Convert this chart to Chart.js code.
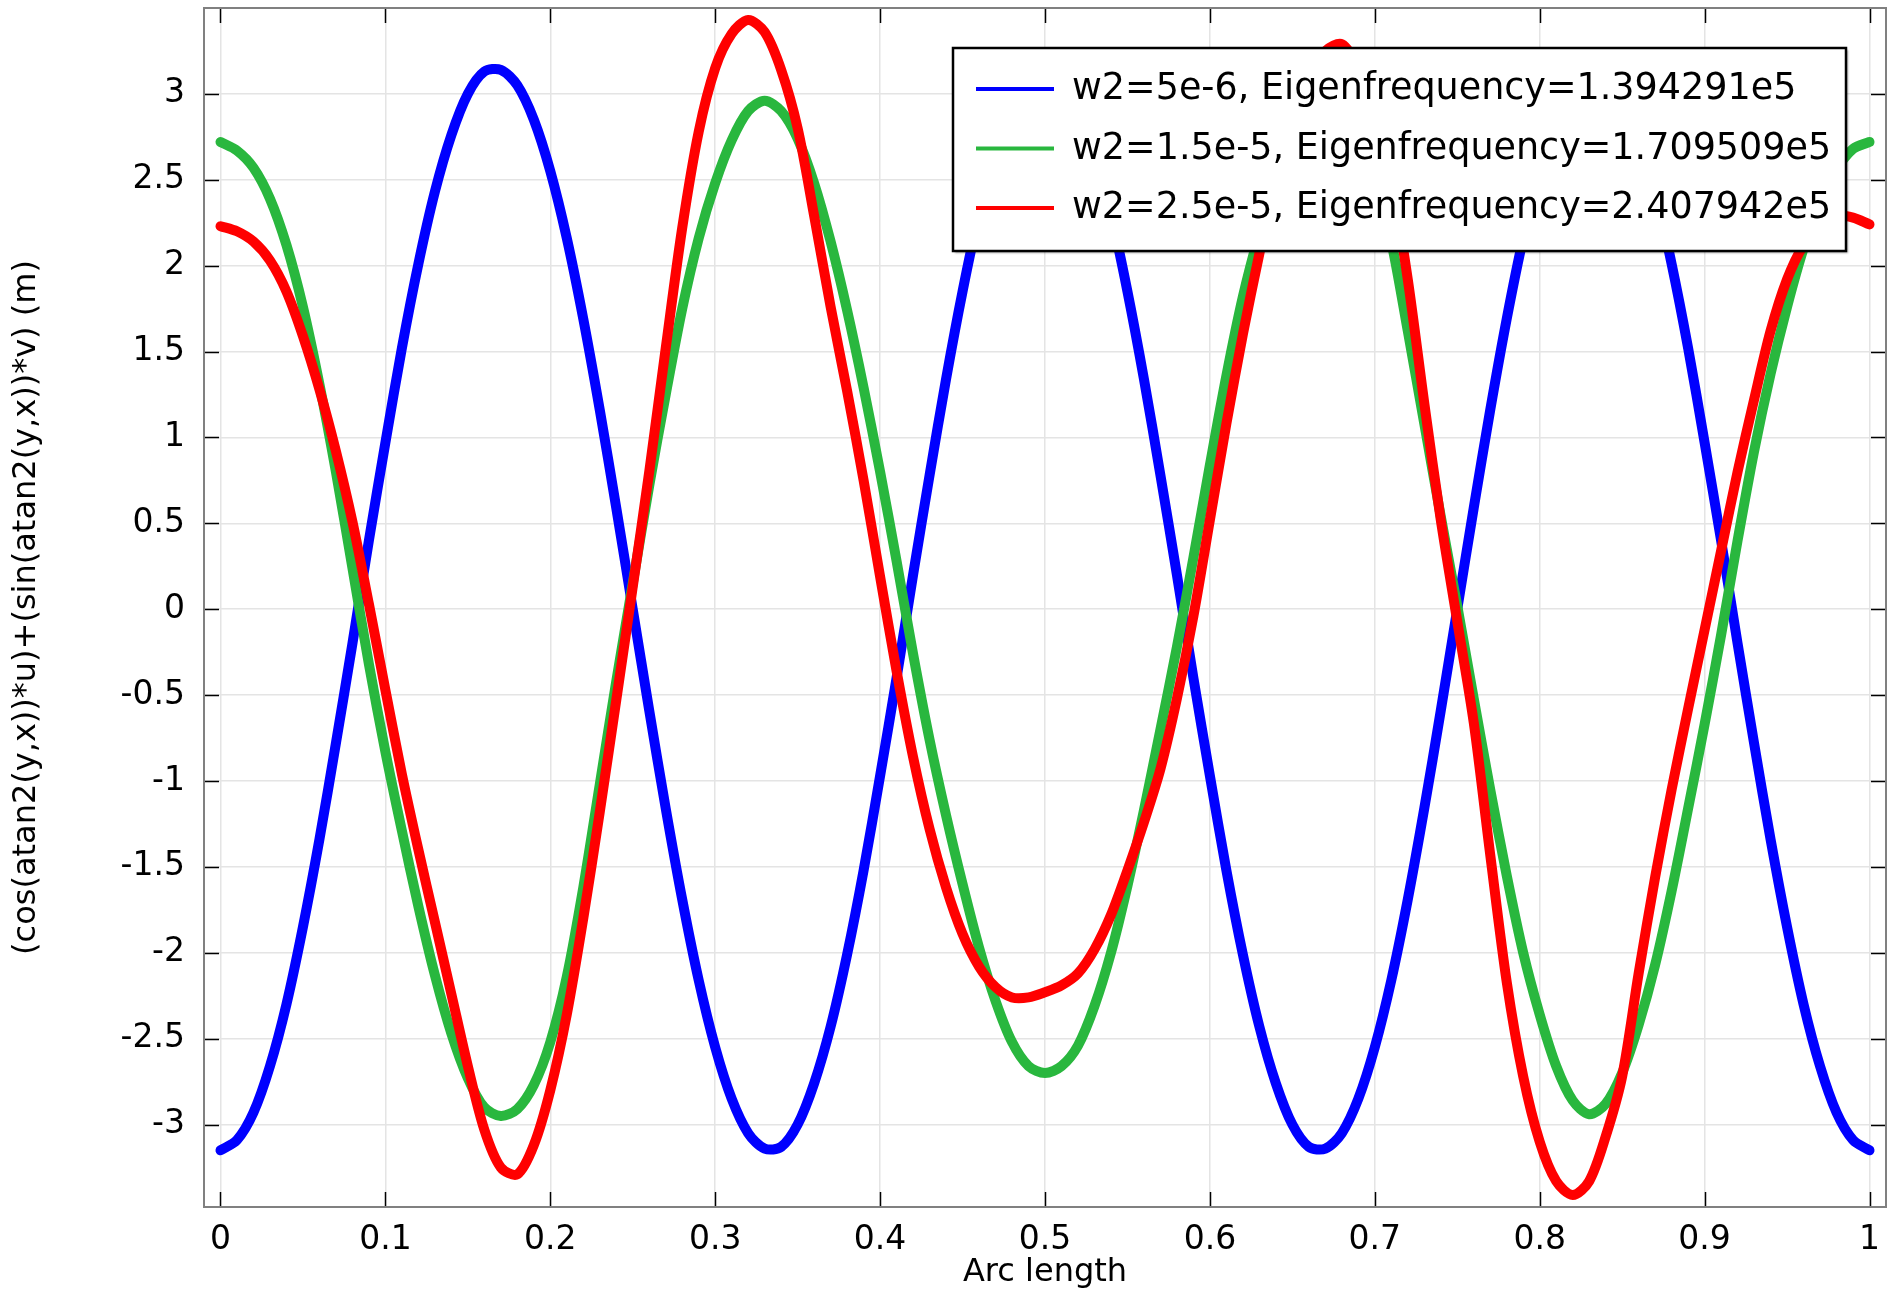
<!DOCTYPE html>
<html>
<head>
<meta charset="utf-8">
<title>Arc length plot</title>
<script src="https://cdn.jsdelivr.net/npm/chart.js@4.4.1/dist/chart.umd.min.js"></script>
<style>
    html, body { margin: 0; padding: 0; background: #fff; }
    #wrap { width: 1892px; height: 1292px; position: relative; }
</style>
</head>
<body>
<div id="wrap"><canvas id="myChart"></canvas></div>
<script>
// #region data
const arcLength = [
    0.00, 0.01, 0.02, 0.03, 0.04, 0.05, 0.06, 0.07, 0.08, 0.09,
    0.10, 0.11, 0.12, 0.13, 0.14, 0.15, 0.16, 0.17, 0.18, 0.19,
    0.20, 0.21, 0.22, 0.23, 0.24, 0.25, 0.26, 0.27, 0.28, 0.29,
    0.30, 0.31, 0.32, 0.33, 0.34, 0.35, 0.36, 0.37, 0.38, 0.39,
    0.40, 0.41, 0.42, 0.43, 0.44, 0.45, 0.46, 0.47, 0.48, 0.49,
    0.50, 0.51, 0.52, 0.53, 0.54, 0.55, 0.56, 0.57, 0.58, 0.59,
    0.60, 0.61, 0.62, 0.63, 0.64, 0.65, 0.66, 0.67, 0.68, 0.69,
    0.70, 0.71, 0.72, 0.73, 0.74, 0.75, 0.76, 0.77, 0.78, 0.79,
    0.80, 0.81, 0.82, 0.83, 0.84, 0.85, 0.86, 0.87, 0.88, 0.89,
    0.90, 0.91, 0.92, 0.93, 0.94, 0.95, 0.96, 0.97, 0.98, 0.99,
    1.00
];

// w2=5e-6
const blueValues = [
    -3.15, -3.09, -2.93, -2.66, -2.30, -1.85, -1.34, -0.78, -0.20, 0.40,
    0.97, 1.52, 2.01, 2.43, 2.76, 3.00, 3.13, 3.14, 3.05, 2.85,
    2.55, 2.16, 1.69, 1.16, 0.59, 0.00, -0.59, -1.16, -1.69, -2.16,
    -2.55, -2.85, -3.05, -3.14, -3.13, -3.00, -2.76, -2.43, -2.01, -1.52,
    -0.97, -0.40, 0.20, 0.78, 1.34, 1.85, 2.30, 2.66, 2.93, 3.09,
    3.15, 3.09, 2.93, 2.66, 2.30, 1.85, 1.34, 0.78, 0.20, -0.40,
    -0.97, -1.52, -2.01, -2.43, -2.76, -3.00, -3.13, -3.14, -3.05, -2.85,
    -2.55, -2.16, -1.69, -1.16, -0.59, 0.00, 0.59, 1.16, 1.69, 2.16,
    2.55, 2.85, 3.05, 3.14, 3.13, 3.00, 2.76, 2.43, 2.01, 1.52,
    0.97, 0.40, -0.20, -0.78, -1.34, -1.85, -2.30, -2.66, -2.93, -3.09,
    -3.15
];

// w2=1.5e-5
const greenValues = [
    2.72, 2.67, 2.57, 2.39, 2.12, 1.76, 1.31, 0.80, 0.24, -0.32,
    -0.83, -1.29, -1.73, -2.13, -2.47, -2.73, -2.90, -2.95, -2.91, -2.77,
    -2.52, -2.14, -1.62, -1.02, -0.42, 0.15, 0.72, 1.25, 1.75, 2.16,
    2.48, 2.73, 2.90, 2.96, 2.90, 2.74, 2.48, 2.14, 1.74, 1.29,
    0.80, 0.28, -0.26, -0.76, -1.20, -1.60, -1.97, -2.28, -2.52, -2.66,
    -2.70, -2.66, -2.54, -2.31, -2.00, -1.61, -1.17, -0.70, -0.22, 0.30,
    0.84, 1.36, 1.82, 2.19, 2.50, 2.74, 2.89, 2.95, 2.90, 2.75,
    2.50, 2.14, 1.62, 1.08, 0.54, 0.02, -0.52, -1.05, -1.55, -2.00,
    -2.36, -2.66, -2.86, -2.94, -2.88, -2.70, -2.42, -2.07, -1.64, -1.16,
    -0.67, -0.15, 0.40, 0.92, 1.37, 1.76, 2.10, 2.36, 2.56, 2.68,
    2.72
];

// w2=2.5e-5
const redValues = [
    2.23, 2.20, 2.14, 2.03, 1.85, 1.59, 1.28, 0.92, 0.51, 0.03,
    -0.47, -0.96, -1.40, -1.82, -2.24, -2.66, -3.03, -3.25, -3.29, -3.12,
    -2.80, -2.36, -1.80, -1.18, -0.53, 0.13, 0.80, 1.52, 2.22, 2.78,
    3.15, 3.35, 3.43, 3.36, 3.14, 2.80, 2.29, 1.76, 1.27, 0.75,
    0.19, -0.36, -0.86, -1.28, -1.62, -1.89, -2.08, -2.20, -2.26, -2.26,
    -2.23, -2.19, -2.12, -1.98, -1.78, -1.52, -1.24, -0.93, -0.52, -0.04,
    0.52, 1.08, 1.60, 2.07, 2.50, 2.85, 3.10, 3.25, 3.29, 3.15,
    2.88, 2.50, 1.92, 1.20, 0.52, -0.07, -0.66, -1.43, -2.17, -2.72,
    -3.10, -3.33, -3.41, -3.33, -3.07, -2.72, -2.12, -1.56, -1.05, -0.58,
    -0.12, 0.34, 0.80, 1.22, 1.62, 1.92, 2.12, 2.23, 2.29, 2.28,
    2.24
];

const seriesLabels = [
    'w2=5e-6, Eigenfrequency=1.394291e5',
    'w2=1.5e-5, Eigenfrequency=1.709509e5',
    'w2=2.5e-5, Eigenfrequency=2.407942e5'
];

const xTicks = [0, 0.1, 0.2, 0.3, 0.4, 0.5, 0.6, 0.7, 0.8, 0.9, 1];
const xTickLabels = ['0', '0.1', '0.2', '0.3', '0.4', '0.5', '0.6', '0.7', '0.8', '0.9', '1'];
const yTicks = [-3, -2.5, -2, -1.5, -1, -0.5, 0, 0.5, 1, 1.5, 2, 2.5, 3];
const yTickLabels = ['-3', '-2.5', '-2', '-1.5', '-1', '-0.5', '0', '0.5', '1', '1.5', '2', '2.5', '3'];
// #endregion data


const
    FONT = "'DejaVu Sans', 'Liberation Sans', sans-serif",
    BLUE = '#0000ff',
    GREEN = '#29b73e',
    RED = '#ff0000';

function points(values) {
    return arcLength.map((x, i) => ({ x: x, y: values[i] }));
}

// frame round the plot area plus the small inward ticks on all four sides
const framePlugin = {
    id: 'frame',
    afterDatasetsDraw(chart) {
        const { ctx, chartArea: a, scales } = chart;
        const len = 15;
        ctx.save();
        ctx.strokeStyle = '#000';
        ctx.lineWidth = 1.5;
        ctx.beginPath();
        xTicks.forEach(v => {
            const px = Math.round(scales.x.getPixelForValue(v)) + 0.5;
            ctx.moveTo(px, a.bottom); ctx.lineTo(px, a.bottom - len);
            ctx.moveTo(px, a.top); ctx.lineTo(px, a.top + len);
        });
        yTicks.forEach(v => {
            const py = Math.round(scales.y.getPixelForValue(v)) + 0.5;
            ctx.moveTo(a.left, py); ctx.lineTo(a.left + len, py);
            ctx.moveTo(a.right, py); ctx.lineTo(a.right - len, py);
        });
        ctx.stroke();
        ctx.strokeStyle = '#808080';
        ctx.lineWidth = 2;
        ctx.strokeRect(a.left, a.top, a.right - a.left, a.bottom - a.top);
        ctx.restore();
    }
};

// legend box drawn inside the plot, top right
const boxLegend = {
    id: 'boxLegend',
    afterDatasetsDraw(chart) {
        const ctx = chart.ctx;
        const box = { x: 953, y: 48, w: 893, h: 203 };
        ctx.save();
        ctx.shadowColor = 'rgba(0,0,0,0.35)';
        ctx.shadowOffsetX = 2;
        ctx.shadowOffsetY = 2;
        ctx.shadowBlur = 2;
        ctx.fillStyle = '#fff';
        ctx.fillRect(box.x, box.y, box.w, box.h);
        ctx.shadowColor = 'transparent';
        ctx.strokeStyle = '#000';
        ctx.lineWidth = 2.5;
        ctx.strokeRect(box.x, box.y, box.w, box.h);

        ctx.font = '36.5px ' + FONT;
        ctx.textBaseline = 'middle';
        ctx.textAlign = 'left';
        chart.data.datasets.forEach((ds, i) => {
            const cy = box.y + 41 + i * 59.5;
            ctx.strokeStyle = ds.borderColor;
            ctx.lineWidth = 4;
            ctx.beginPath();
            ctx.moveTo(box.x + 23, cy);
            ctx.lineTo(box.x + 101, cy);
            ctx.stroke();
            ctx.fillStyle = '#000';
            ctx.fillText(ds.label, box.x + 119, cy + 1);
        });
        ctx.restore();
    }
};

// no extra room for labels that stick out past the ends of an axis
function noEdgePadding(s) {
    s.paddingTop = 0;
    s.paddingBottom = 0;
    s.paddingLeft = 0;
    s.paddingRight = 0;
}


function graphrender() {
    const ctx = document.querySelector('#myChart').getContext('2d');

    new Chart(ctx, {
        type: 'line',
        data: {
            datasets: [
                { label: seriesLabels[0], data: points(blueValues), borderColor: BLUE, order: 3 },
                { label: seriesLabels[1], data: points(greenValues), borderColor: GREEN, order: 2 },
                { label: seriesLabels[2], data: points(redValues), borderColor: RED, order: 1 }
            ]
        },
        options: {
            responsive: true,
            maintainAspectRatio: false,
            animation: false,
            devicePixelRatio: 1,
            layout: { padding: { top: 8, right: 6, left: 0, bottom: 0 } },
            elements: {
                line: { borderWidth: 10, tension: 0.3, borderCapStyle: 'round', borderJoinStyle: 'round', fill: false },
                point: { radius: 0, hoverRadius: 0 }
            },
            plugins: {
                legend: { display: false },
                tooltip: { enabled: false }
            },
            scales: {
                x: {
                    type: 'linear',
                    min: -0.01,
                    max: 1.01,
                    afterFit: s => { s.height = 85; noEdgePadding(s); },
                    afterBuildTicks: s => { s.ticks = xTicks.map(v => ({ value: v })); },
                    grid: { color: '#e4e4e4', lineWidth: 1.5, drawTicks: false },
                    border: { display: false },
                    ticks: {
                        padding: 14,
                        color: '#000',
                        font: { family: FONT, size: 33 },
                        maxRotation: 0,
                        callback: (v, i) => xTickLabels[i]
                    },
                    title: {
                        display: true,
                        text: 'Arc length',
                        color: '#000',
                        font: { family: FONT, size: 32 },
                        padding: { top: 0, bottom: 0 }
                    }
                },
                y: {
                    min: -3.48,
                    max: 3.5,
                    afterFit: s => { s.width = 204; noEdgePadding(s); },
                    afterBuildTicks: s => { s.ticks = yTicks.map(v => ({ value: v })); },
                    grid: { color: '#e4e4e4', lineWidth: 1.5, drawTicks: false },
                    border: { display: false },
                    ticks: {
                        padding: 19,
                        color: '#000',
                        font: { family: FONT, size: 33 },
                        callback: (v, i) => yTickLabels[i]
                    },
                    title: {
                        display: true,
                        text: '(cos(atan2(y,x))*u)+(sin(atan2(y,x))*v) (m)',
                        color: '#000',
                        font: { family: FONT, size: 32 },
                        padding: { top: 7, bottom: 0 }
                    }
                }
            }
        },
        plugins: [framePlugin, boxLegend]
    });
}

graphrender();
</script>
</body>
</html>
